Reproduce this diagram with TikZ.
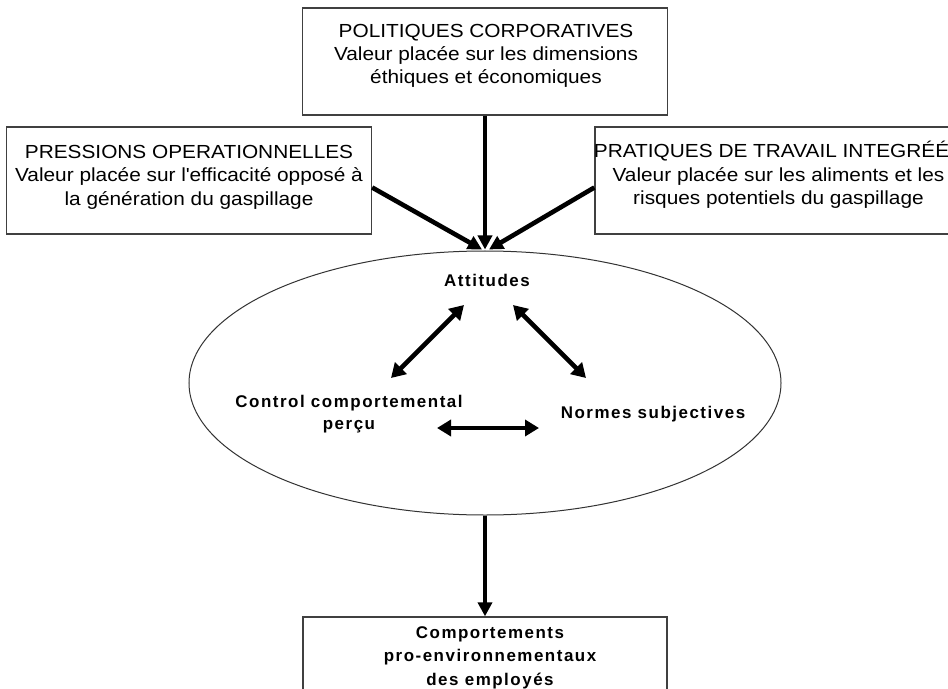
\documentclass[tikz,border=0pt]{standalone}
\usepackage{fontspec}
\setmainfont{Liberation Sans}
\newfontfamily\boxfont{Liberation Sans}[FakeStretch=1.1]
\newfontfamily\ellfont{Liberation Sans}[LetterSpace=9]
\usetikzlibrary{shapes.geometric,arrows.meta,calc}
\begin{document}
\begin{tikzpicture}[x=1bp,y=-1bp,
  box/.style={draw=black!75, line width=1.3bp, minimum width=365bp, minimum height=107bp, inner sep=0pt},
  btxt/.style={font=\boxfont\fontsize{19}{23.5}\selectfont, align=center, inner sep=0pt, anchor=base},
  etxt/.style={font=\ellfont\bfseries\fontsize{17}{22}\selectfont, align=center, inner sep=0pt, anchor=base},
  arr/.style={line width=4.6bp, -{Triangle[length=14bp,width=14bp]}},
  darr/.style={line width=4.6bp, {Triangle[length=14bp,width=16bp]}-{Triangle[length=14bp,width=16bp]}}]
\clip (0,0) rectangle (948,689);
\fill[white] (0,0) rectangle (948,689);
% boxes (text nodes anchored at the baseline of their last line)
\node[box] (pol) at (485,61.5) {};
\node[btxt] (polT) at (486,84) {POLITIQUES CORPORATIVES\\Valeur placée sur les dimensions\\éthiques et économiques};
\node[box] (pre) at (189,180.5) {};
\node[btxt] (preT) at (189,205) {PRESSIONS OPERATIONNELLES\\Valeur placée sur l\textquotesingle efficacité opposé à\\la génération du gaspillage};
\node[box] (pra) at (777.5,180.5) {};
\node[btxt] (praT) at (778.5,204.5) {PRATIQUES DE TRAVAIL INTEGRÉÉS\\Valeur placée sur les aliments et les\\risques potentiels du gaspillage};
% ellipse
\node[draw=black!80, line width=1bp, ellipse, minimum width=592bp, minimum height=264bp, inner sep=0pt] (ell) at (485,383) {};
\node[etxt] (att) at (487,286) {Attitudes};
\node[etxt] (ctl) at (349,429) {Control comportemental\\perçu};
\node[etxt] (nor) at (653,418) {Normes subjectives};
\coordinate (a1) at (464,305);
\coordinate (c1) at (391,378);
\coordinate (a2) at (513,305);
\coordinate (n1) at (586,378);
\coordinate (c2) at (437,428);
\coordinate (n2) at (539,428);
% bottom box
\node[box, minimum width=364bp, minimum height=100bp] (bot) at (485,667) {};
\node[etxt, font=\ellfont\bfseries\fontsize{17}{23.5}\selectfont] (botT) at (490,685) {Comportements\\pro-environnementaux\\des employés};
% arrows
\draw[arr] (pol.south) -- ($(ell.north)+(0,-1)$);
\draw[arr] ($(pre.east)+(0,7)$) -- ($(ell.north)+(-3,-1)$);
\draw[arr] ($(pra.west)+(0,7)$) -- ($(ell.north)+(4,-1)$);
\draw[arr] (ell.south) -- (bot.north);
\draw[darr] (a1) -- (c1);
\draw[darr] (a2) -- (n1);
\draw[darr] (c2) -- (n2);
\end{tikzpicture}
\end{document}
